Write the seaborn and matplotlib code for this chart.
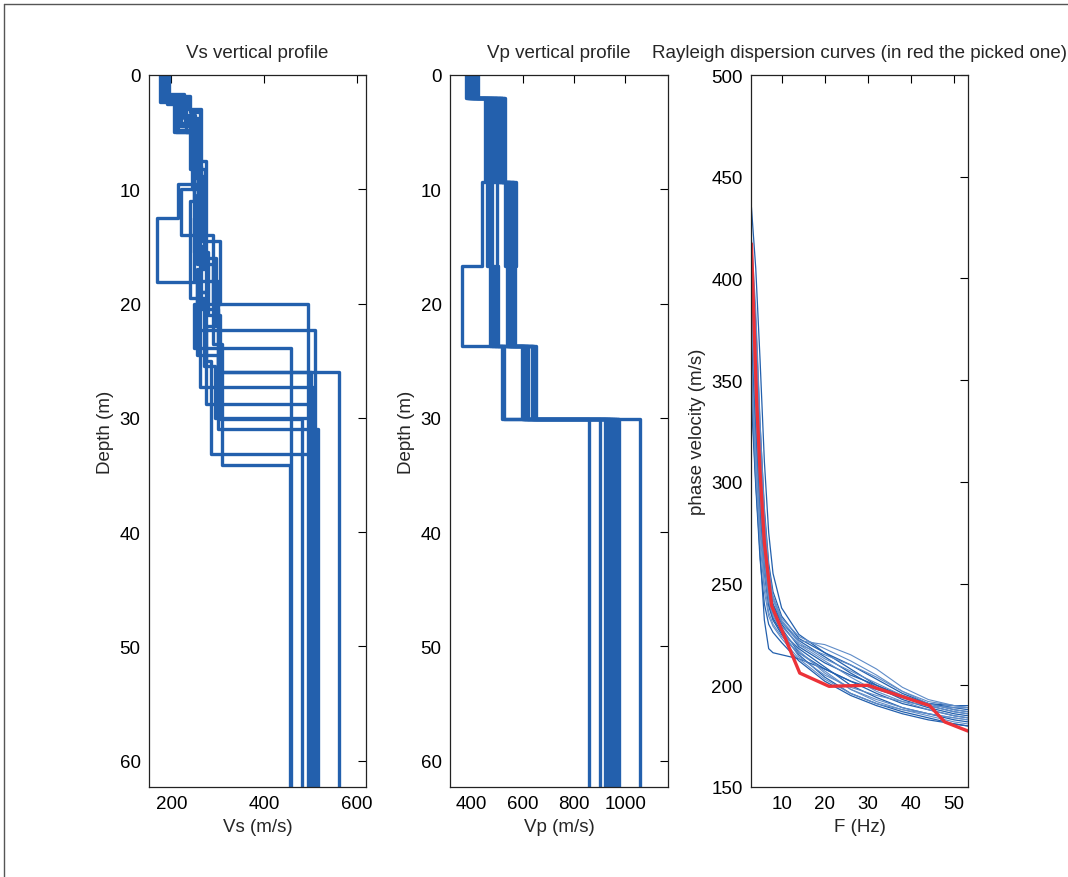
import matplotlib
matplotlib.use("Agg")
import matplotlib.pyplot as plt
import pandas as pd
import seaborn as sns
from matplotlib.lines import Line2D

BLUE = "#2360ad"
RED = "#ec3238"

# Vs models: layer bottoms (m) and layer Vs (m/s); last Vs is the half-space
VS_DEPTHS = [
    [2.0, 4.8, 10.0, 14.0, 20.0],
    [1.8, 3.2, 9.5, 12.5, 18.1, 22.3],
    [2.5, 5.0, 8.0, 14.5, 20.0, 23.9],
    [2.2, 4.0, 12.5, 18.0, 26.0],
    [2.0, 3.5, 7.5, 19.0, 27.3],
    [1.9, 4.5, 10.0, 16.0, 22.0, 28.8],
    [2.3, 5.0, 9.0, 15.5, 21.0, 30.1],
    [2.0, 3.0, 8.8, 17.0, 24.5, 31.0],
    [2.1, 4.2, 9.8, 19.0, 25.0, 33.2],
    [1.7, 3.8, 10.5, 16.5, 23.5, 34.1],
    [2.4, 4.5, 8.2, 15.0, 20.5, 26.0],
    [2.0, 5.0, 11.0, 19.5, 25.5, 30.0],
]
VS_VALUES = [
    [185, 215, 250, 220, 290, 495],
    [178, 240, 262, 215, 170, 255, 510],
    [190, 205, 245, 265, 305, 250, 459],
    [182, 230, 258, 250, 300, 562],
    [188, 225, 252, 276, 262, 505],
    [192, 220, 245, 260, 296, 275, 500],
    [180, 210, 255, 248, 280, 305, 481],
    [195, 235, 265, 270, 255, 300, 517],
    [183, 218, 248, 262, 275, 285, 512],
    [187, 228, 258, 255, 290, 310, 457],
    [176, 208, 240, 272, 265, 300, 502],
    [190, 232, 250, 240, 270, 295, 508],
]

# Vp models share the same layer bottoms (m)
VP_DEPTHS = [2.0, 9.4, 16.7, 23.7, 30.1]
VP_VALUES = [
    [400, 452, 439, 361, 520, 860],
    [385, 469, 458, 471, 595, 901],
    [410, 484, 478, 490, 605, 920],
    [420, 500, 497, 503, 615, 930],
    [378, 517, 536, 536, 634, 940],
    [395, 525, 550, 545, 640, 948],
    [405, 530, 560, 555, 645, 955],
    [415, 520, 573, 568, 651, 962],
    [390, 510, 545, 560, 620, 970],
    [425, 495, 565, 550, 610, 976],
    [382, 475, 530, 540, 600, 1057],
    [398, 460, 470, 480, 525, 935],
]

# Rayleigh dispersion curves of the models
FREQ = [3, 4, 5, 6, 7, 8, 10, 14, 20, 26, 32, 38, 44, 50, 53.2]
DISP_CURVES = [
    [435, 405, 360, 310, 275, 255, 238, 225, 216, 208, 200, 194, 190, 187, 186],
    [420, 385, 330, 285, 258, 244, 233, 224, 218, 212, 205, 197, 191, 188, 187],
    [400, 360, 315, 278, 252, 240, 231, 222, 214, 206, 199, 193, 189, 186, 185],
    [385, 340, 300, 268, 246, 237, 229, 220, 212, 204, 197, 192, 188, 185, 184],
    [370, 325, 285, 258, 240, 233, 226, 218, 209, 200, 194, 189, 186, 183, 182],
    [355, 310, 275, 250, 236, 230, 224, 216, 207, 198, 192, 188, 185, 182, 181],
    [345, 300, 265, 232, 218, 216, 215, 213, 208, 202, 196, 191, 188, 185, 184],
    [410, 370, 322, 282, 256, 243, 232, 222, 220, 215, 208, 199, 193, 190, 189],
    [395, 352, 308, 272, 250, 239, 230, 219, 211, 205, 200, 195, 191, 189, 188],
    [380, 335, 293, 262, 243, 235, 227, 217, 206, 198, 193, 189, 186, 184, 183],
    [365, 320, 282, 255, 239, 232, 225, 215, 204, 196, 191, 187, 184, 181, 180],
    [350, 305, 270, 246, 234, 229, 223, 213, 203, 196, 191, 188, 186, 184, 183],
    [415, 378, 328, 287, 260, 246, 234, 223, 216, 210, 203, 196, 191, 188, 187],
    [390, 345, 302, 270, 249, 238, 229, 220, 215, 210, 204, 197, 192, 190, 189],
    [375, 330, 290, 262, 244, 236, 228, 216, 208, 202, 198, 194, 191, 190, 190],
    [360, 318, 280, 256, 241, 234, 227, 214, 205, 199, 195, 192, 190, 189, 189],
    [340, 298, 262, 240, 230, 226, 221, 212, 202, 195, 190, 186, 183, 181, 180],
    [405, 365, 318, 280, 255, 242, 231, 221, 213, 207, 201, 195, 190, 187, 186],
]

# picked (experimental) curve
PICKED_FREQ = [3, 3.5, 4.2, 5, 6, 7.7, 14.2, 21, 30, 44.3, 47.8, 53.2]
PICKED_VEL = [417, 385, 340, 305, 270, 239, 206, 199.5, 200, 190, 182, 177.5]

MAX_DEPTH = 62.3


def step_profile(depths, values, bottom=80.0):
    tops = [0.0] + list(depths)
    bottoms = list(depths) + [bottom]
    xs, ys = [], []
    for top, bot, v in zip(tops, bottoms, values):
        xs += [v, v]
        ys += [top, bot]
    return xs, ys


def profiles_frame(depth_lists, value_lists):
    rows = []
    for i, (d, v) in enumerate(zip(depth_lists, value_lists)):
        xs, ys = step_profile(d, v)
        for k, (x, y) in enumerate(zip(xs, ys)):
            rows.append({"model": i, "order": k, "vel": x, "depth": y})
    return pd.DataFrame(rows)


def style_axis(ax):
    ax.tick_params(direction="in", top=True, right=True, length=6, width=0.8,
                   labelsize=13.5, pad=6, colors="black")
    for spine in ax.spines.values():
        spine.set_visible(True)
        spine.set_linewidth(0.9)
        spine.set_color("#222222")


sns.set_theme(style="white")
plt.rcParams["font.family"] = ["Liberation Sans", "DejaVu Sans"]

fig = plt.figure(figsize=(10.68, 8.78), dpi=100)
ax1 = fig.add_axes([149 / 1068, 1 - 788 / 878, 217 / 1068, 712 / 878])
ax2 = fig.add_axes([450 / 1068, 1 - 788 / 878, 218 / 1068, 712 / 878])
ax3 = fig.add_axes([751 / 1068, 1 - 788 / 878, 217 / 1068, 712 / 878])

vs_df = profiles_frame(VS_DEPTHS, VS_VALUES)
sns.lineplot(data=vs_df, x="vel", y="depth", units="model", estimator=None,
             sort=False, color=BLUE, linewidth=2.4, ax=ax1, legend=False)
ax1.set_xlim(152, 620)
ax1.set_ylim(MAX_DEPTH, 0)
ax1.set_xticks([200, 400, 600])
ax1.set_yticks([0, 10, 20, 30, 40, 50, 60])
ax1.set_xlabel("Vs (m/s)", fontsize=13.5)
ax1.set_ylabel("Depth (m)", fontsize=13.5)
ax1.set_title("Vs vertical profile", fontsize=13.5, pad=13)
style_axis(ax1)

vp_df = profiles_frame([VP_DEPTHS] * len(VP_VALUES), VP_VALUES)
sns.lineplot(data=vp_df, x="vel", y="depth", units="model", estimator=None,
             sort=False, color=BLUE, linewidth=2.4, ax=ax2, legend=False)
ax2.set_xlim(315, 1167)
ax2.set_ylim(MAX_DEPTH, 0)
ax2.set_xticks([400, 600, 800, 1000])
ax2.set_yticks([0, 10, 20, 30, 40, 50, 60])
ax2.set_xlabel("Vp (m/s)", fontsize=13.5)
ax2.set_ylabel("Depth (m)", fontsize=13.5)
ax2.set_title("Vp vertical profile", fontsize=13.5, pad=13)
style_axis(ax2)

disp_rows = []
for i, curve in enumerate(DISP_CURVES):
    for f, v in zip(FREQ, curve):
        disp_rows.append({"curve": i, "F": f, "vel": v, "shade": i % 2})
disp_df = pd.DataFrame(disp_rows)
sns.lineplot(data=disp_df[disp_df["shade"] == 0], x="F", y="vel", units="curve",
             estimator=None, color=BLUE, linewidth=0.9, ax=ax3, legend=False)
sns.lineplot(data=disp_df[disp_df["shade"] == 1], x="F", y="vel", units="curve",
             estimator=None, color="#5f8cc8", linewidth=0.8, ax=ax3, legend=False)
picked_df = pd.DataFrame({"F": PICKED_FREQ, "vel": PICKED_VEL})
sns.lineplot(data=picked_df, x="F", y="vel", estimator=None, sort=False,
             color=RED, linewidth=2.4, ax=ax3, legend=False)
ax3.set_xlim(2.9, 53.2)
ax3.set_ylim(150, 500)
ax3.set_xticks([10, 20, 30, 40, 50])
ax3.set_yticks([150, 200, 250, 300, 350, 400, 450, 500])
ax3.set_xlabel("F (Hz)", fontsize=13.5)
ax3.set_ylabel("phase velocity (m/s)", fontsize=13.5)
ax3.set_title("Rayleigh dispersion curves (in red the picked one)", fontsize=13.5, pad=13)
style_axis(ax3)

# window border of the original screenshot
fig.add_artist(Line2D([4 / 1068, 1.0], [1 - 5 / 878, 1 - 5 / 878], color="#555555", lw=1))
fig.add_artist(Line2D([4 / 1068, 4 / 1068], [0.0, 1 - 5 / 878], color="#555555", lw=1))

fig.savefig("out.png", dpi=100)
